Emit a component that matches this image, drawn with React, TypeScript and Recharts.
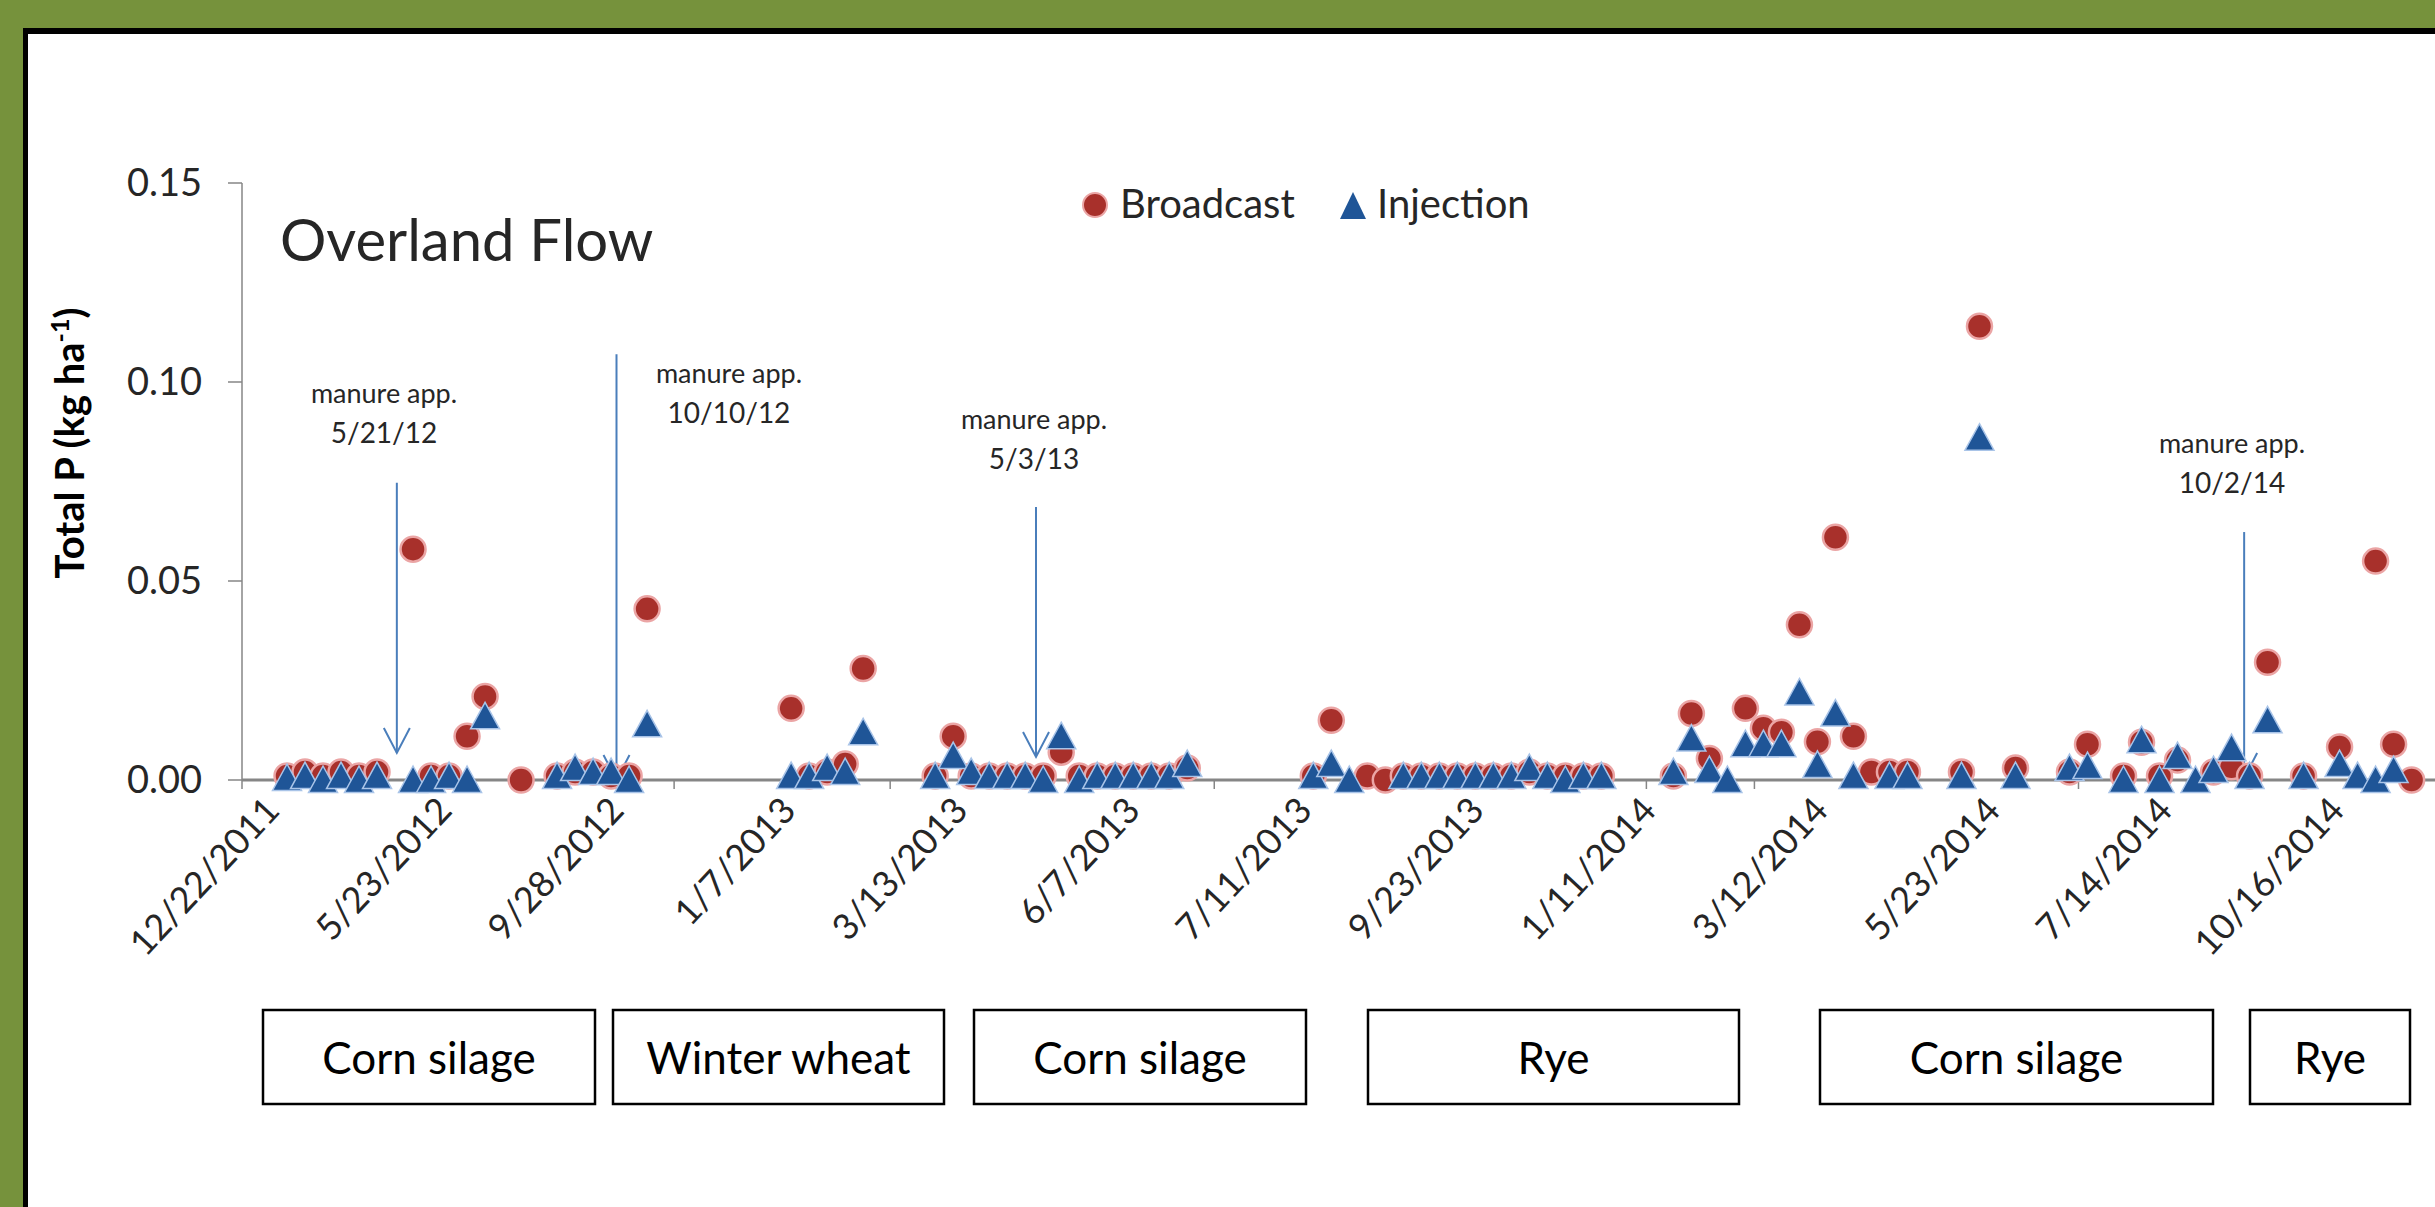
import React from 'react';
import { ScatterChart, Scatter, XAxis, YAxis, ReferenceLine, Legend } from 'recharts';

// sample (category) index of each sampling event along the x axis
const samples = [0,1,2,3,4,5,7,8,9,10,11,13,15,16,17,18,19,20,28,29,30,31,32,36,37,38,39,40,41,42,43,44,45,46,47,48,49,50,57,58,59,60,61,62,63,64,65,66,67,68,69,70,71,72,73,77,78,79,80,81,82,83,84,85,86,87,88,89,90,93,94,96,99,100,102,103,104,105,106,107,108,109,110,112,114,115,116,117,118];
// Total P (kg/ha), Broadcast
const broadcast = [0.001,0.002,0.001,0.002,0.001,0.002,0.058,0.001,0.001,0.011,0.021,0.000,0.001,0.002,0.002,0.001,0.001,0.043,0.018,0.001,0.002,0.004,0.028,0.001,0.011,0.001,0.001,0.001,0.001,0.001,0.007,0.001,0.001,0.001,0.001,0.001,0.001,0.003,0.001,0.015,null,0.001,0.000,0.001,0.001,0.001,0.001,0.001,0.001,0.001,0.002,0.001,0.001,0.001,0.001,0.001,0.0167,0.0054,null,0.018,0.013,0.012,0.039,0.0096,0.061,0.011,0.002,0.002,0.002,0.002,0.114,0.003,0.002,0.009,0.001,0.0095,0.001,0.005,null,0.002,0.0033,0.001,0.0296,0.001,0.0083,null,0.055,0.009,0.000];
// Total P (kg/ha), Injection
const injection = [0.0005,0.001,0.000,0.001,0.000,0.001,0.000,0.000,0.001,0.000,0.016,null,0.001,0.003,0.002,0.002,0.000,0.014,0.001,0.001,0.003,0.002,0.012,0.001,0.006,0.002,0.001,0.001,0.001,0.000,0.011,0.000,0.001,0.001,0.001,0.001,0.001,0.004,0.001,0.004,0.000,null,null,0.001,0.001,0.001,0.001,0.001,0.001,0.001,0.003,0.001,0.000,0.001,0.001,0.002,0.0104,0.0025,0.000,0.009,0.009,0.009,0.022,0.0038,0.0167,0.001,null,0.001,0.001,0.001,0.086,0.001,0.003,0.0035,0.000,0.010,0.000,0.006,0.000,0.0025,0.008,0.001,0.015,0.001,0.004,0.001,0.000,0.0025,null];

const dateLabels = ['12/22/2011','5/23/2012','9/28/2012','1/7/2013','3/13/2013','6/7/2013','7/11/2013','9/23/2013','1/11/2014','3/12/2014','5/23/2014','7/14/2014','10/16/2014'];
const yTicks = [0, 0.05, 0.10, 0.15];

// manure applications: sample position, arrow top value, arrow tip value
const manureLabels = ['5/21/12', '10/10/12', '5/3/13', '10/2/14'];
const manurePos = [6.1, 18.3, 41.6, 108.7];
const manureTop = [0.0747, 0.107, 0.0686, 0.0623];
const manureTip = [0.0068, 0.0, 0.0058, 0.0005];

const cropLabels = ['Corn silage', 'Winter wheat', 'Corn silage', 'Rye', 'Corn silage', 'Rye'];

// ---- layout (pixels) ----
const W = 2435;
const H = 1207;
const X_DOMAIN: [number, number] = [-2.5, 119.3];
const LABEL_START = -0.3;
const LABEL_STEP = 9.556;
const labelPositions = dateLabels.map((_, i) => LABEL_START + i * LABEL_STEP);
const minorTicks: number[] = [];
for (let t = -2.5; t <= 119; t += 6) minorTicks.push(t);

const cropBoxes = [[263, 595], [613, 944], [974, 1306], [1368, 1739], [1820, 2213], [2250, 2410]];
const manureText = [[384, 403], [729, 383], [1034, 429], [2232, 453]];

const RED = '#A8302B';
const BLUE = '#1F5597';
const ARROW = '#4A7EBB';
const TXT = '#262626';

const bData = samples.map((c, i) => ({ c, v: broadcast[i] })).filter(d => d.v !== null);
const iData = samples.map((c, i) => ({ c, v: injection[i] })).filter(d => d.v !== null);

const Circle = (p: any) => (
  <circle cx={p.cx} cy={p.cy} r={12.5} fill={RED} stroke="#EBA5A5" strokeWidth={2.5} />
);
const Tri = (p: any) => (
  <path d={`M${p.cx},${p.cy - 14} L${p.cx + 14.5},${p.cy + 12.5} L${p.cx - 14.5},${p.cy + 12.5} Z`} fill={BLUE} stroke="#A9C4E8" strokeWidth={1.5} />
);

const Arrow = (p: any) => {
  const { x1, y1, x2, y2 } = p;
  return (
    <g>
      <line x1={x1} y1={y1} x2={x2} y2={y2} stroke={ARROW} strokeWidth={2} />
      <polyline points={`${x2 - 13},${y2 - 25} ${x2},${y2} ${x2 + 13},${y2 - 25}`} fill="none" stroke={ARROW} strokeWidth={2} />
    </g>
  );
};

const DateTick = (p: any) => {
  const idx = labelPositions.findIndex(v => Math.abs(v - p.payload.value) < 1e-6);
  const x = p.x;
  const y = p.y + 14;
  return (
    <text x={x} y={y} textAnchor="end" transform={`rotate(-47 ${x} ${y})`} fontSize={36} fill={TXT}>
      {idx >= 0 ? dateLabels[idx] : ''}
    </text>
  );
};

const NoTick = () => <g />;

const LegendContent = () => (
  <svg width={540} height={60} style={{ overflow: 'visible' }}>
    <circle cx={15} cy={25} r={12} fill={RED} stroke="#EBA5A5" strokeWidth={2} />
    <text x={40} y={38} fontSize={40} fill={TXT}>Broadcast</text>
    <path d="M273,12 L286,39 L260,39 Z" fill={BLUE} />
    <text x={297} y={38} fontSize={40} fill={TXT}>Injection</text>
  </svg>
);

export default function App() {
  return (
    <div style={{ position: 'fixed', left: 0, top: 0, width: W, height: H, background: '#76923C', overflow: 'hidden', fontFamily: 'Lato, "Open Sans", sans-serif' }}>
      <div style={{ position: 'absolute', left: 23, top: 28, right: 0, bottom: 0, background: '#fff', borderTop: '6px solid #000', borderLeft: '5px solid #000' }} />
      <div style={{ position: 'absolute', left: 0, top: 0 }}>
        <ScatterChart width={W} height={H} margin={{ top: 183, right: 0, bottom: 0, left: 0 }}>
          <XAxis xAxisId="c" type="number" dataKey="c" domain={X_DOMAIN} allowDataOverflow ticks={minorTicks} interval={0}
            tick={NoTick} tickLine={{ stroke: '#868686', strokeWidth: 1.5 }} tickSize={9} height={10}
            axisLine={{ stroke: '#868686', strokeWidth: 3 }} />
          <XAxis xAxisId="lbl" type="number" dataKey="c" domain={X_DOMAIN} allowDataOverflow ticks={labelPositions} interval={0}
            tick={DateTick} tickLine={false} axisLine={false} height={417} />
          <YAxis type="number" dataKey="v" domain={[0, 0.15]} ticks={yTicks} interval={0} width={242}
            tickFormatter={(v: number) => v.toFixed(2)} tickSize={14} tickMargin={26}
            tick={{ fontSize: 38, fill: TXT }}
            axisLine={{ stroke: '#868686', strokeWidth: 1.5 }} tickLine={{ stroke: '#868686', strokeWidth: 1.5 }} />
          <Legend layout="horizontal" verticalAlign="middle" align="center" content={LegendContent}
            wrapperStyle={{ position: 'absolute', top: 180, left: 1080, width: 540, height: 60 }} />
          {manurePos.map((c, i) => (
            <ReferenceLine key={i} xAxisId="c" segment={[{ x: c, y: manureTop[i] }, { x: c, y: manureTip[i] }]}
              shape={Arrow} ifOverflow="visible" />
          ))}
          <Scatter name="Broadcast" xAxisId="c" data={bData} shape={Circle} isAnimationActive={false} />
          <Scatter name="Injection" xAxisId="c" data={iData} shape={Tri} isAnimationActive={false} />
        </ScatterChart>
      </div>
      <svg width={W} height={H} style={{ position: 'absolute', left: 0, top: 0, pointerEvents: 'none' }}>
        <text x={280} y={261} fontSize={58} fill={TXT}>Overland Flow</text>
        <text x={84} y={443} transform="rotate(-90 84 443)" textAnchor="middle" fontSize={40} fontWeight={700} fill="#000">
          Total P (kg ha<tspan dy={-15} fontSize={25}>-1</tspan><tspan dy={15}>)</tspan>
        </text>
        {manureLabels.map((lab, i) => (
          <g key={i}>
            <text x={manureText[i][0]} y={manureText[i][1]} textAnchor="middle" fontSize={27} fill={TXT}>manure app.</text>
            <text x={manureText[i][0]} y={manureText[i][1] + 40} textAnchor="middle" fontSize={28} fill={TXT}>{lab}</text>
          </g>
        ))}
        {cropLabels.map((lab, i) => {
          const [x0, x1] = cropBoxes[i];
          return (
            <g key={i}>
              <rect x={x0} y={1010} width={x1 - x0} height={94} fill="#fff" stroke="#000" strokeWidth={2.5} />
              <text x={(x0 + x1) / 2} y={1074} textAnchor="middle" fontSize={44} fill="#000">{lab}</text>
            </g>
          );
        })}
      </svg>
    </div>
  );
}
